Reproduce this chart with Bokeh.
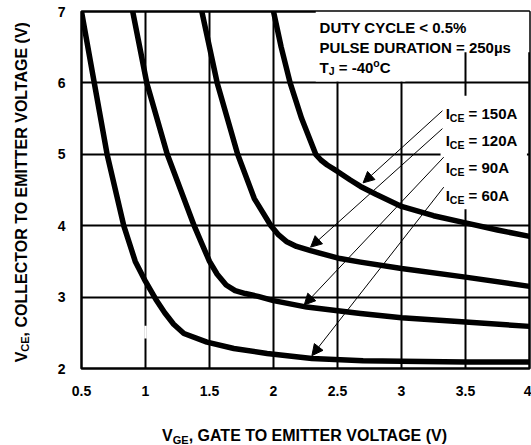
from bokeh.plotting import figure
from bokeh.layouts import row, column
from bokeh.models import Range1d, FixedTicker, Label, Arrow, NormalHead, BoxAnnotation
from bokeh.embed import file_html
from bokeh.resources import INLINE

# ---------------- data ----------------
x_ticks = [0.5, 1, 1.5, 2, 2.5, 3, 3.5, 4]
x_tick_labels = ["0.5", "1", "1.5", "2", "2.5", "3", "3.5", "4"]
y_ticks = [2, 3, 4, 5, 6, 7]
y_tick_labels = ["2", "3", "4", "5", "6", "7"]

vge_60 = [0.50, 0.60, 0.70, 0.83, 0.92, 1.00, 1.08, 1.15, 1.22, 1.30, 1.48, 1.69, 1.95, 2.30, 2.70, 3.00, 3.50, 4.00]
vce_60 = [7.00, 6.00, 5.00, 4.00, 3.50, 3.22, 2.97, 2.78, 2.62, 2.49, 2.37, 2.28, 2.21, 2.14, 2.11, 2.10, 2.09, 2.09]

vge_90 = [0.90, 1.01, 1.17, 1.38, 1.44, 1.50, 1.56, 1.63, 1.70, 1.78, 1.88, 2.00, 2.26, 2.68, 3.00, 3.50, 4.00]
vce_90 = [7.00, 6.00, 5.00, 4.00, 3.75, 3.50, 3.32, 3.17, 3.09, 3.05, 3.01, 2.95, 2.86, 2.77, 2.71, 2.65, 2.59]

vge_120 = [1.44, 1.56, 1.72, 1.85, 1.98, 2.04, 2.10, 2.18, 2.29, 2.52, 2.68, 3.00, 3.50, 4.00]
vce_120 = [7.00, 6.00, 5.00, 4.38, 4.00, 3.87, 3.78, 3.71, 3.65, 3.54, 3.49, 3.40, 3.28, 3.15]

vge_150 = [2.00, 2.06, 2.13, 2.22, 2.33, 2.37, 2.42, 2.50, 2.60, 2.68, 2.80, 3.00, 3.25, 3.50, 3.75, 4.00]
vce_150 = [7.00, 6.50, 6.00, 5.50, 5.00, 4.92, 4.85, 4.76, 4.64, 4.55, 4.44, 4.27, 4.14, 4.04, 3.94, 3.85]

series_names = ["150A", "120A", "90A", "60A"]
arrow_start_x = [3.32, 3.32, 3.33, 3.33]
arrow_start_y = [5.61, 5.36, 4.96, 4.54]
arrow_tip_x = [2.70, 2.29, 2.24, 2.30]
arrow_tip_y = [4.60, 3.70, 2.89, 2.18]
label_base_y = [5.576, 5.20, 4.82, 4.42]

# ---------------- layout ----------------
TOTAL_W, TOTAL_H = 531, 445
YT_W = 30            # width of the strip holding the y title
XT_H = 40            # height of the strip holding the x title
MW, MH = TOTAL_W - YT_W, TOTAL_H - XT_H
BL, BR, BT = 81 - YT_W, 2, 11
FW = MW - BL - BR    # 448
FH = 357
BB = MH - BT - FH
SX = FW / 3.5
SY = FH / 5.0

FONT = "Liberation Sans"
WID = {' ': 278, ',': 278, '-': 333, '.': 278, '%': 889, '<': 584, '=': 584, '(': 333, ')': 333,
       'A': 722, 'B': 722, 'C': 722, 'D': 722, 'E': 667, 'G': 778, 'I': 278, 'J': 556, 'L': 611,
       'M': 833, 'N': 722, 'O': 778, 'P': 667, 'R': 722, 'S': 667, 'T': 611, 'U': 722, 'V': 667,
       'Y': 667, 'µ': 611, 's': 556, 'o': 611}


def tw(s, size):
    return sum(WID.get(c, 556) for c in s) * size / 1000.0


def place_pieces(fig, pieces, x0, y0, kx, ky, rotated=False):
    """Place text pieces along a baseline.
    kx, ky: data units per pixel (ky>0 when data y grows upward).
    pieces: (text, size_px, shift_px) ; shift>0 = down (subscript)."""
    cum = 0.0
    for text, size, shift in pieces:
        lead = len(text) - len(text.lstrip(" "))
        cum += tw(text[:lead], size)
        body = text.lstrip(" ")
        if rotated:
            x = x0 + shift * kx
            y = y0 + cum * ky
            ang = 1.5707963267948966
        else:
            x = x0 + cum * kx
            y = y0 - shift * ky
            ang = 0
        fig.add_layout(Label(x=x, y=y, text=body, angle=ang, text_font=FONT,
                             text_font_style="bold", text_font_size=f"{size}px",
                             text_color="black", text_align="left", text_baseline="alphabetic"))
        cum += tw(body, size)
    return cum


# ---------------- main plot ----------------
p = figure(width=MW, height=MH, output_backend="svg", toolbar_location=None,
           x_range=Range1d(0.5, 4), y_range=Range1d(2, 7),
           min_border_left=BL, min_border_right=BR, min_border_top=BT, min_border_bottom=BB)
p.background_fill_color = "white"
p.border_fill_color = "white"
p.outline_line_color = "black"
p.outline_line_width = 2.5

p.xaxis.ticker = FixedTicker(ticks=x_ticks)
p.yaxis.ticker = FixedTicker(ticks=y_ticks)
p.xgrid.ticker = FixedTicker(ticks=x_ticks)
p.ygrid.ticker = FixedTicker(ticks=y_ticks)


def key(v):
    return int(v) if float(v).is_integer() else v


p.xaxis.major_label_overrides = {key(v): t for v, t in zip(x_ticks, x_tick_labels)}
p.yaxis.major_label_overrides = {key(v): t for v, t in zip(y_ticks, y_tick_labels)}
for ax in (p.xaxis, p.yaxis):
    ax.axis_line_color = None
    ax.major_tick_line_color = None
    ax.minor_tick_line_color = None
    ax.major_tick_in = 0
    ax.major_tick_out = 0
    ax.major_label_text_font = FONT
    ax.major_label_text_font_style = "bold"
    ax.major_label_text_font_size = "14px"
    ax.major_label_text_color = "black"
p.xaxis.major_label_standoff = 17
p.yaxis.major_label_standoff = 16

for g in (p.xgrid, p.ygrid):
    g.grid_line_color = "black"
    g.grid_line_width = 2
    g.grid_line_alpha = 1.0

for xs, ys in [(vge_60, vce_60), (vge_90, vce_90), (vge_120, vce_120), (vge_150, vce_150)]:
    p.line(xs, ys, line_color="black", line_width=5.5, line_join="round", line_cap="round")

for l, r, t, b in [(2.33, 4.0, 7.0, 6.43), (2.33, 3.03, 6.43, 6.02), (3.305, 3.98, 5.82, 4.23),
                   (0.99, 1.01, 2.60, 2.42)]:
    p.add_layout(BoxAnnotation(left=l, right=r, top=t, bottom=b, fill_color="white",
                               fill_alpha=1.0, line_color=None))

for sx0, sy0, ex, ey in zip(arrow_start_x, arrow_start_y, arrow_tip_x, arrow_tip_y):
    p.add_layout(Arrow(x_start=sx0, y_start=sy0, x_end=ex, y_end=ey, line_width=1,
                       line_color="black",
                       end=NormalHead(size=11, fill_color="black", line_color="black", line_width=1)))

kx, ky = 1.0 / SX, 1.0 / SY
place_pieces(p, [("DUTY CYCLE < 0.5%", 15, 0)], 2.36, 6.77, kx, ky)
place_pieces(p, [("PULSE DURATION = 250µs", 15, 0)], 2.36, 6.50, kx, ky)
place_pieces(p, [("T", 15, 0), ("J", 10.5, 4), (" = -40", 15, 0), ("o", 10.5, -4.5), ("C", 15, 0)],
             2.36, 6.22, kx, ky)
for name, by in zip(series_names, label_base_y):
    place_pieces(p, [("I", 15, 0), ("CE", 10.5, 4.5), (" = " + name, 15, 0)], 3.345, by, kx, ky)

# ---------------- y title strip (x = px from left, y = same data scale as main) ----------------
yfig = figure(width=YT_W, height=MH, output_backend="svg", toolbar_location=None,
              x_range=Range1d(0, YT_W), y_range=Range1d(2, 7),
              x_axis_type=None, y_axis_type=None, min_border=0,
              min_border_left=0, min_border_right=0, min_border_top=BT, min_border_bottom=BB)
yfig.outline_line_color = None
yfig.grid.visible = False
yt = [("V", 16, 0), ("CE", 11, 4), (", COLLECTOR TO EMITTER VOLTAGE (V)", 16, 0)]
tot = sum(tw(t, s) for t, s, _ in yt)
place_pieces(yfig, yt, 20.5, 4.49 - tot / 2 / SY, 1.0, 1.0 / SY, rotated=True)

# ---------------- x title strip (x = same data scale as main, y = page pixels) ----------------
xfig = figure(width=TOTAL_W, height=XT_H, output_backend="svg", toolbar_location=None,
              x_range=Range1d(0.5, 4), y_range=Range1d(TOTAL_H, MH),
              x_axis_type=None, y_axis_type=None, min_border=0,
              min_border_left=81, min_border_right=BR, min_border_top=0, min_border_bottom=0)
xfig.outline_line_color = None
xfig.grid.visible = False
xt = [("V", 16, 0), ("GE", 11, 4), (", GATE TO EMITTER VOLTAGE (V)", 16, 0)]
tot = sum(tw(t, s) for t, s, _ in xt)
x_center = 0.5 + (306 - 81) / SX
place_pieces(xfig, xt, x_center - tot / 2 / SX, 435, 1.0 / SX, -1.0)

layout = column(row(yfig, p, spacing=0), xfig, spacing=0)
open("out.html", "w").write(file_html(layout, INLINE))
